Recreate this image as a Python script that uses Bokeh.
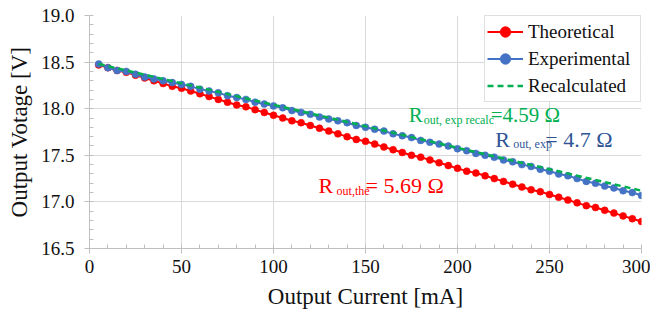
from bokeh.plotting import figure
from bokeh.models import Range1d, SingleIntervalTicker, NumeralTickFormatter, Label, Legend, LegendItem
from bokeh.embed import file_html
from bokeh.resources import INLINE

current_ma = [5, 10, 15, 20, 25, 30, 35, 40, 45, 50, 55, 60, 65, 70, 75, 80, 85, 90, 95, 100,
              105, 110, 115, 120, 125, 130, 135, 140, 145, 150, 155, 160, 165, 170, 175, 180, 185, 190, 195, 200,
              205, 210, 215, 220, 225, 230, 235, 240, 245, 250, 255, 260, 265, 270, 275, 280, 285, 290, 295, 300]

theoretical_v = [18.47, 18.44, 18.41, 18.39, 18.36, 18.33, 18.30, 18.27, 18.24, 18.22,
                 18.19, 18.16, 18.13, 18.10, 18.07, 18.04, 18.02, 17.99, 17.96, 17.93,
                 17.90, 17.87, 17.85, 17.82, 17.79, 17.76, 17.73, 17.70, 17.67, 17.65,
                 17.62, 17.59, 17.56, 17.53, 17.50, 17.48, 17.45, 17.42, 17.39, 17.36,
                 17.33, 17.31, 17.28, 17.25, 17.22, 17.19, 17.16, 17.13, 17.11, 17.08,
                 17.05, 17.02, 16.99, 16.96, 16.94, 16.91, 16.88, 16.85, 16.82, 16.79]

experimental_v = [18.48, 18.44, 18.41, 18.40, 18.37, 18.34, 18.32, 18.30, 18.28, 18.26,
                  18.24, 18.21, 18.19, 18.17, 18.14, 18.12, 18.10, 18.07, 18.05, 18.03,
                  18.01, 17.98, 17.96, 17.94, 17.91, 17.89, 17.87, 17.85, 17.82, 17.80,
                  17.78, 17.76, 17.73, 17.71, 17.69, 17.66, 17.64, 17.62, 17.60, 17.57,
                  17.55, 17.52, 17.50, 17.48, 17.45, 17.43, 17.40, 17.38, 17.35, 17.33,
                  17.30, 17.28, 17.25, 17.22, 17.20, 17.17, 17.15, 17.12, 17.10, 17.07]

recalc_ma = [5, 300]
recalc_v = [18.48, 17.12]

FONT = "'Liberation Serif', 'Times New Roman', serif"
RED = "#FF0000"
BLUE = "#4472C4"
GREEN = "#00B050"

p = figure(width=650, height=314, output_backend="svg", toolbar_location=None,
           x_range=Range1d(0, 300), y_range=Range1d(16.5, 19.0),
           min_border_left=89, min_border_right=9, min_border_top=15, min_border_bottom=66)
p.outline_line_color = None
p.background_fill_color = "white"
p.border_fill_color = "white"

p.xgrid.grid_line_color = "#D9D9D9"
p.ygrid.grid_line_color = "#D9D9D9"

p.xaxis.ticker = SingleIntervalTicker(interval=50, num_minor_ticks=5)
p.yaxis.ticker = SingleIntervalTicker(interval=0.5, num_minor_ticks=5)
p.yaxis.formatter = NumeralTickFormatter(format="0.0")
for ax in (p.xaxis[0], p.yaxis[0]):
    ax.axis_line_color = "#BFBFBF"
    ax.major_tick_line_color = "#BFBFBF"
    ax.minor_tick_line_color = "#BFBFBF"
    ax.major_tick_in = 0
    ax.major_tick_out = 5
    ax.minor_tick_in = 4
    ax.minor_tick_out = 0
    ax.major_label_text_font = FONT
    ax.major_label_text_font_size = "19px"
    ax.major_label_text_color = "#111111"
    ax.axis_label_text_font = FONT
    ax.axis_label_text_font_size = "23px"
    ax.axis_label_text_font_style = "normal"
    ax.axis_label_text_color = "#111111"
p.xaxis.axis_label = "Output Current [mA]"
p.yaxis.axis_label = "Output Votage [V]"
p.xaxis.major_label_standoff = 6
p.xaxis.axis_label_standoff = 8
p.yaxis.major_label_standoff = 10
p.yaxis.axis_label_standoff = 6

r_the_l = p.line(current_ma, theoretical_v, line_color=RED, line_width=2)
r_the_m = p.scatter(current_ma, theoretical_v, size=7, fill_color=RED, line_color=RED, line_width=0.5)
r_exp_l = p.line(current_ma, experimental_v, line_color=BLUE, line_width=2)
r_exp_m = p.scatter(current_ma, experimental_v, size=7, fill_color=BLUE, line_color=BLUE, line_width=0.5)
r_rec = p.line(recalc_ma, recalc_v, line_color=GREEN, line_width=2.5, line_dash="6 4")

legend = Legend(items=[
    LegendItem(label="Theoretical", renderers=[r_the_l, r_the_m]),
    LegendItem(label="Experimental", renderers=[r_exp_l, r_exp_m]),
    LegendItem(label="Recalculated", renderers=[r_rec]),
], location="top_right")
legend.label_text_font = FONT
legend.label_text_font_size = "19px"
legend.label_text_color = "#111111"
legend.border_line_color = "#BFBFBF"
legend.border_line_width = 1
legend.background_fill_alpha = 1
legend.margin = 0
legend.padding = 2
legend.spacing = 0
legend.label_height = 27
legend.glyph_height = 27
legend.glyph_width = 36
legend.label_standoff = 5
legend.label_width = 110
p.add_layout(legend)

def r_label(x, y, sub, rest, color, sub_dx, rest_dx, size="21px"):
    p.add_layout(Label(x=x, y=y, text="R", text_font=FONT, text_font_size=size,
                       text_color=color, text_baseline="alphabetic"))
    p.add_layout(Label(x=x, y=y, x_offset=sub_dx, y_offset=-5, text=sub, text_font=FONT,
                       text_font_size="12px", text_color=color, text_baseline="alphabetic"))
    p.add_layout(Label(x=x, y=y, x_offset=rest_dx, text=rest, text_font=FONT,
                       text_font_size=size, text_color=color, text_baseline="alphabetic"))

r_label(124.5, 17.175, "out,the", "= 5.69 \u03a9", RED, 18, 47, "22px")
r_label(220.5, 17.67, "out, exp", "= 4.7 \u03a9", "#2F5597", 18, 50, "22px")
r_label(173.5, 17.93, "out, exp recalc", "=4.59 \u03a9", GREEN, 15, 82)

open("out.html", "w").write(file_html(p, INLINE))
